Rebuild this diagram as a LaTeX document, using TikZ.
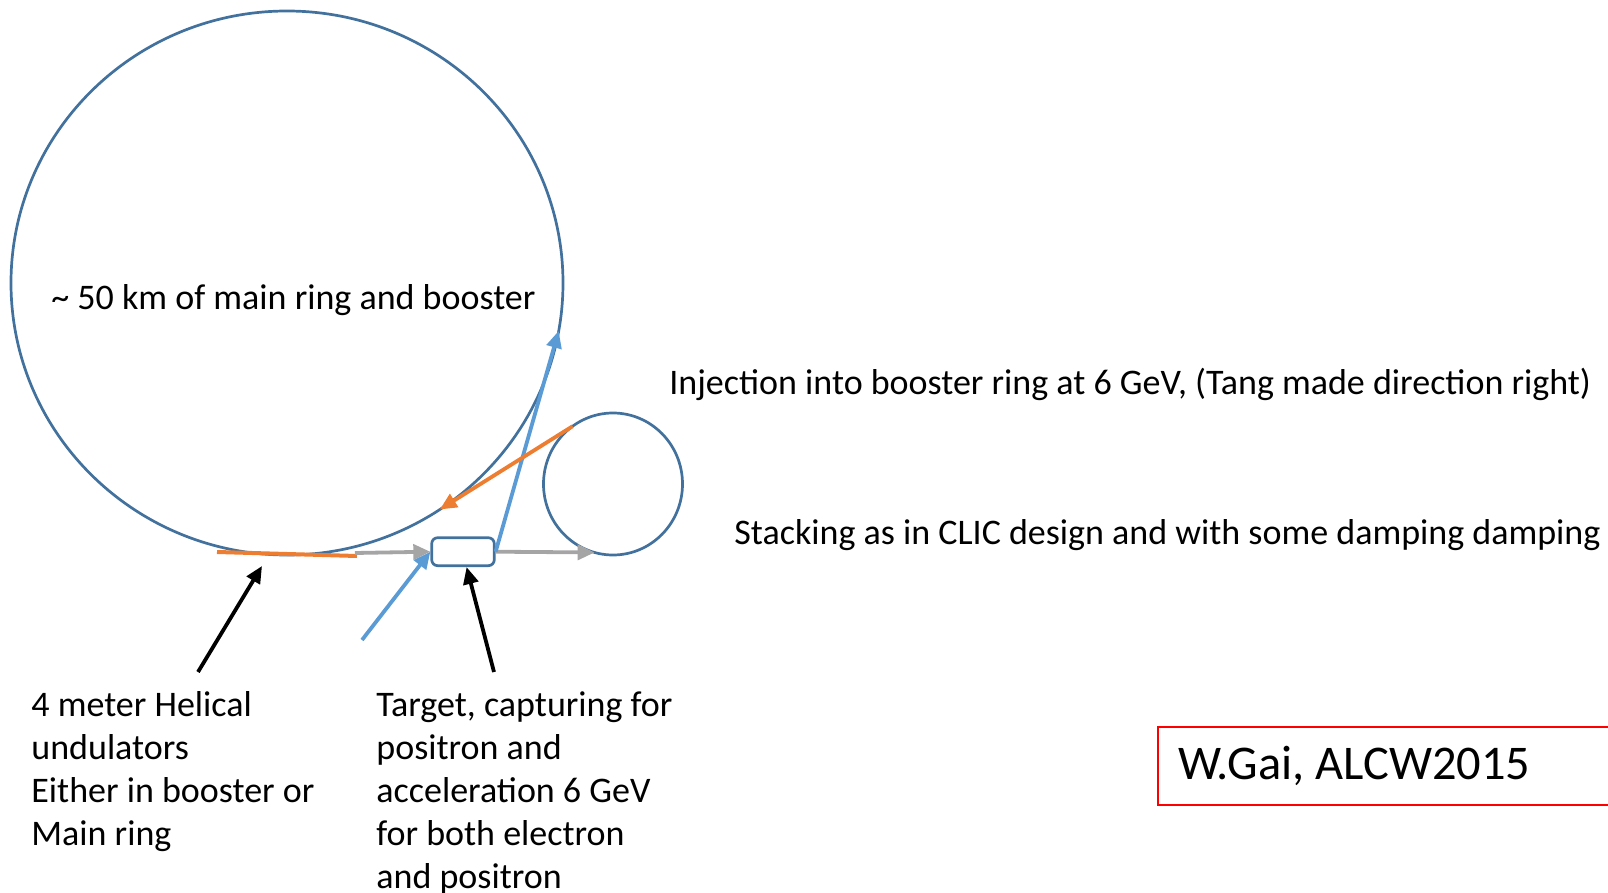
\documentclass[tikz,border=0pt]{standalone}
\usepackage{fontspec}
\setmainfont{Carlito}
\usetikzlibrary{arrows.meta,shapes.geometric}

\definecolor{ringblue}{RGB}{65,113,156}
\definecolor{beamblue}{RGB}{91,155,213}
\definecolor{beamorange}{RGB}{237,125,49}
\definecolor{beamgray}{RGB}{165,165,165}

\tikzset{
  ring/.style={draw=ringblue, line width=1.35pt, ellipse, inner sep=0pt, outer sep=0pt},
  beam/.style={line width=1.9pt, -{Triangle[length=8.5pt,width=7.5pt]}},
  pointer/.style={beam, draw=black},
  txt/.style={font=\fontsize{18pt}{21.5pt}\selectfont, inner sep=0pt, anchor=base west, align=left}
}

\begin{document}
\frenchspacing
\begin{tikzpicture}[x=0.5pt,y=-0.5pt]
    \useasboundingbox (0,0) rectangle (1608,893);

    % Main ring and the small booster/damping ring
    \node[ring, minimum width=276pt, minimum height=272pt] (mainring) at (287,283) {};
    \node[ring, minimum width=69.5pt, minimum height=71pt] (booster) at (613,484) {};

    % Undulator section and the target
    \coordinate (undwest) at (217,552);
    \coordinate (undeast) at (357,556);
    \coordinate (undout) at (355,553);
    \draw[beamorange, line width=2pt] (undwest) -- (undeast);
    \node[draw=ringblue, line width=1.35pt, rounded corners=3pt, minimum width=31.3pt, minimum height=14pt, inner sep=0pt] (target) at (463,551.7) {};

    % Beams
    \coordinate (drive) at (362,640);
    \draw[beam, beamgray] (undout) -- (target.west);
    \draw[beam, beamgray] (target.east) -- (booster.-105);
    \draw[beam, beamblue] (drive) -- (target.west);
    \draw[beam, beamblue] (target.east) -- (mainring.-10.4);
    \draw[beam, beamorange] (booster.125.5) -- (mainring.-56.4);

    % Texts (multi-line ones sit on the baseline of their last line)
    \node[txt] (ringlabel) at (51,310) {\textasciitilde{} 50 km of main ring and booster};
    \node[txt] (injlabel) at (669,394) {Injection into booster ring at 6 GeV, (Tang made direction right)};
    \node[txt] (stacklabel) at (734,545) {Stacking as in CLIC design and with some damping damping};
    \node[txt] (undlabel) at (31,845) {4 meter Helical\\undulators\\Either in booster or\\Main ring};
    \node[txt] (tgtlabel) at (376,888) {Target, capturing for\\positron and\\acceleration 6 GeV\\for both electron\\and positron};

    % Pointers from the texts
    \coordinate (undtail) at (198,672);
    \coordinate (undtip) at (262,566);
    \coordinate (tgttail) at (494,672);
    \draw[pointer] (undtail) -- (undtip);
    \draw[pointer] (tgttail) -- ([xshift=1.8pt]target.south);

    % Credit box, cut off at the right edge
    \node[draw=red, line width=1pt, anchor=north west, minimum height=38.75pt, text width=230pt, inner xsep=10pt, inner ysep=0pt, align=flush left, font=\fontsize{24.2pt}{26pt}\selectfont] (credit) at (1157,726) {W.Gai, ALCW2015};

\end{tikzpicture}
\end{document}
